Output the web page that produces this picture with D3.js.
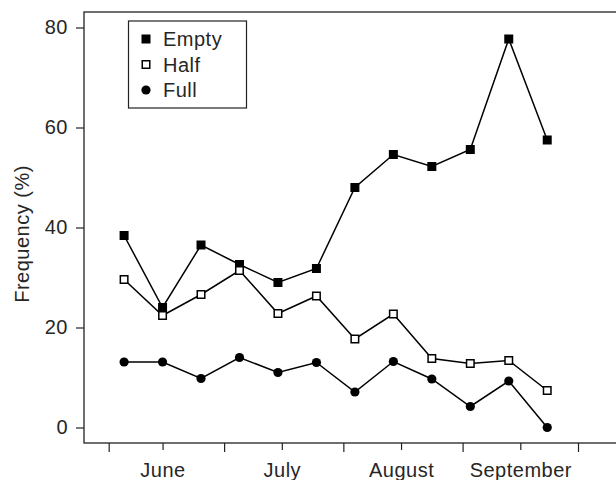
<!DOCTYPE html>
<html>
<head>
<meta charset="utf-8">
<script src="https://cdn.jsdelivr.net/npm/d3@7"></script>
<style>
  html, body { margin: 0; padding: 0; background: #fff; }
  svg { display: block; }
  text { font-family: "Liberation Sans", Arial, sans-serif; fill: #262626; letter-spacing: 0.5px; }
</style>
</head>
<body>
<svg id="chart" width="616" height="480"></svg>
<script>
// ---- data ----
const days = [4, 14, 24, 34, 44, 54, 64, 74, 84, 94, 104, 114]; // days since June 1
const emptyVals = [38.4, 24.0, 36.5, 32.6, 29.0, 31.8, 48.0, 54.6, 52.2, 55.6, 77.7, 57.5];
const halfVals  = [29.6, 22.4, 26.6, 31.4, 22.8, 26.3, 17.7, 22.7, 13.8, 12.8, 13.4, 7.4];
const fullVals  = [13.1, 13.1, 9.8, 14.0, 11.0, 13.0, 7.1, 13.2, 9.7, 4.2, 9.3, 0.0];
const monthStarts = [0, 30, 61, 92, 122];
const monthMids = [14, 45, 76, 107];
const monthLabels = ["June", "July", "August", "September"];
const yTicks = [0, 20, 40, 60, 80];
const seriesNames = ["Empty", "Half", "Full"];

// ---- layout ----
const svg = d3.select("#chart");
const mLeft = 84, mTop = 12, mBottom = 443, mRight = 640;
const x = d3.scaleLinear().domain([0, 122]).range([108.7, 578]);
const y = d3.scaleLinear().domain([0, 80]).range([427.5, 27.5]);
const FS = 20;
const FONT = "Liberation Sans, Arial, sans-serif";
const TXT = "#262626";

// frame
svg.append("rect")
  .attr("x", mLeft).attr("y", mTop)
  .attr("width", mRight - mLeft).attr("height", mBottom - mTop)
  .attr("fill", "none").attr("stroke", "#222").attr("stroke-width", 1.3);

// y axis
const yAxis = svg.append("g").attr("transform", `translate(${mLeft},0)`)
  .call(d3.axisLeft(y).tickValues(yTicks).tickSize(8).tickPadding(8));
yAxis.select(".domain").remove();
yAxis.selectAll("line").attr("stroke", "#222").attr("stroke-width", 1.2);
yAxis.selectAll("text").attr("font-size", FS).attr("font-family", FONT).attr("fill", TXT);

// x axis: month boundaries (long ticks), mid months (labelled)
const xAxisLong = svg.append("g").attr("transform", `translate(0,${mBottom})`)
  .call(d3.axisBottom(x).tickValues(monthStarts).tickSize(9).tickFormat(""));
xAxisLong.select(".domain").remove();
xAxisLong.selectAll("line").attr("stroke", "#222").attr("stroke-width", 1.2);

const xAxisMid = svg.append("g").attr("transform", `translate(0,${mBottom})`)
  .call(d3.axisBottom(x).tickValues(monthMids).tickSize(7).tickPadding(13)
    .tickFormat((d, i) => monthLabels[i]));
xAxisMid.select(".domain").remove();
xAxisMid.selectAll("line").attr("stroke", "#222").attr("stroke-width", 1.2);
xAxisMid.selectAll("text").attr("font-size", FS).attr("font-family", FONT).attr("fill", TXT);

// y axis title
svg.append("text")
  .attr("transform", `translate(29,234) rotate(-90)`)
  .attr("text-anchor", "middle")
  .attr("font-size", FS)
  .text("Frequency (%)");

// ---- series ----
const line = d3.line().x(d => x(d[0])).y(d => y(d[1]));
function pts(vals) { return days.map((d, i) => [d, vals[i]]); }

function drawLine(vals) {
  svg.append("path").datum(pts(vals))
    .attr("d", line).attr("fill", "none")
    .attr("stroke", "#000").attr("stroke-width", 1.5);
}
const SQ = 9;
function filledSquares(vals) {
  svg.append("g").selectAll("rect").data(pts(vals)).join("rect")
    .attr("x", d => x(d[0]) - SQ / 2).attr("y", d => y(d[1]) - SQ / 2)
    .attr("width", SQ).attr("height", SQ).attr("fill", "#000");
}
function openSquares(vals) {
  svg.append("g").selectAll("rect").data(pts(vals)).join("rect")
    .attr("x", d => x(d[0]) - (SQ - 1.5) / 2).attr("y", d => y(d[1]) - (SQ - 1.5) / 2)
    .attr("width", SQ - 1.5).attr("height", SQ - 1.5)
    .attr("fill", "#fff").attr("stroke", "#000").attr("stroke-width", 1.5);
}
function circles(vals) {
  svg.append("g").selectAll("circle").data(pts(vals)).join("circle")
    .attr("cx", d => x(d[0])).attr("cy", d => y(d[1]))
    .attr("r", 4.6).attr("fill", "#000");
}

drawLine(fullVals); circles(fullVals);
drawLine(emptyVals); filledSquares(emptyVals);
drawLine(halfVals); openSquares(halfVals);

// ---- legend ----
const lg = svg.append("g");
lg.append("rect").attr("x", 128.5).attr("y", 21).attr("width", 118).attr("height", 87)
  .attr("fill", "#fff").attr("stroke", "#222").attr("stroke-width", 1.2);
const rows = [39, 64.5, 90];
const mx = 146;
lg.append("rect").attr("x", mx - SQ / 2).attr("y", rows[0] - SQ / 2).attr("width", SQ).attr("height", SQ).attr("fill", "#000");
lg.append("rect").attr("x", mx - (SQ - 1.5) / 2).attr("y", rows[1] - (SQ - 1.5) / 2).attr("width", SQ - 1.5).attr("height", SQ - 1.5)
  .attr("fill", "#fff").attr("stroke", "#000").attr("stroke-width", 1.5);
lg.append("circle").attr("cx", mx).attr("cy", rows[2]).attr("r", 4.6).attr("fill", "#000");
lg.selectAll("text.lbl").data(seriesNames).join("text").attr("class", "lbl")
  .attr("x", 163).attr("y", (d, i) => rows[i]).attr("dy", "0.36em")
  .attr("font-size", FS).text(d => d);
</script>
</body>
</html>
